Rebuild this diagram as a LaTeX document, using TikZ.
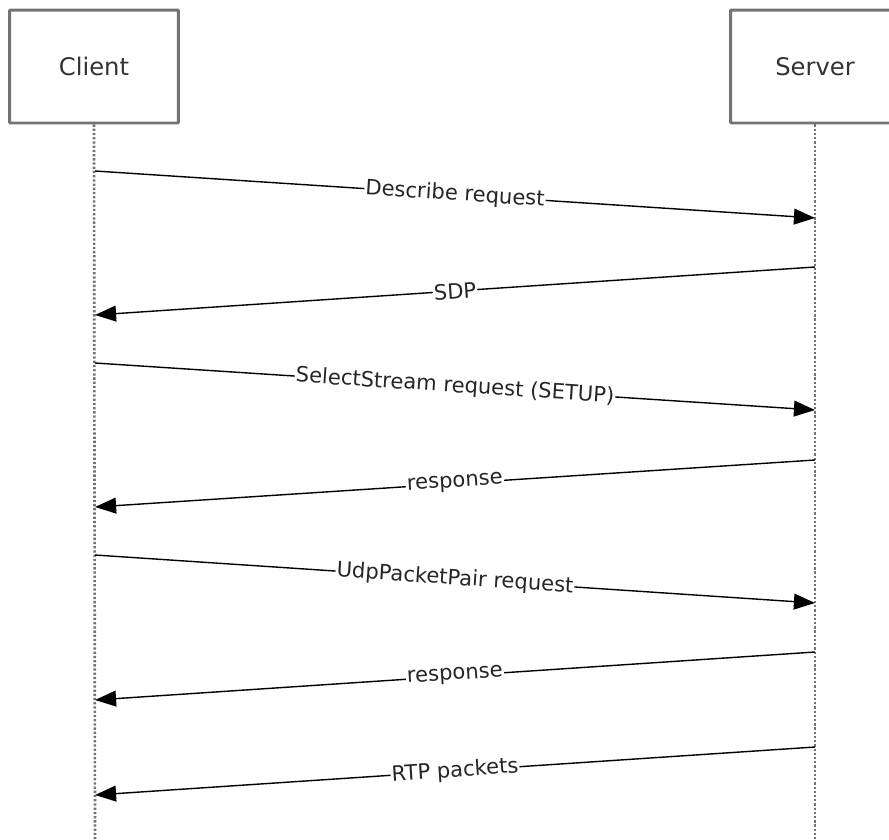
\documentclass[tikz,border=0pt]{standalone}
\usepackage{fontspec}
\setmainfont{DejaVu Sans}
\usetikzlibrary{arrows.meta}
\tikzset{
  actor/.style={draw=black!55, line width=1.7pt, rounded corners=0.6pt,
    minimum width=3.38cm, minimum height=2.26cm, text=black!80,
    font=\fontsize{13.8}{16}\selectfont},
  lifeline/.style={black!55, line width=1.5pt, dash pattern=on 1.3pt off 1.1pt},
  msg/.style={line width=0.8pt, -{Triangle[length=12pt,width=9pt]}},
  msglabel/.style={midway, sloped, fill=white, inner sep=0.6pt,
    text=black!85, font=\fontsize{12}{14}\selectfont}
}
\begin{document}
\begin{tikzpicture}[x=0.02cm, y=-0.02cm]
                \clip (0,0) rectangle (889,839);
                % actors
                \node[actor] (client) at (94,66.5) {Client};
                \node[actor] (server) at (815,66.5) {Server};
                \coordinate (cend) at (95,839);
                \coordinate (send) at (815,839);
                \draw[lifeline] (client.south) -- (cend);
                \draw[lifeline] (server.south) -- (send);
                % ends of the messages
                \coordinate (c1) at (95,171);
                \coordinate (s1) at (815,218);
                \coordinate (s2) at (815,267);
                \coordinate (c2) at (95,315);
                \coordinate (c3) at (95,363);
                \coordinate (s3) at (815,410);
                \coordinate (s4) at (815,460);
                \coordinate (c4) at (95,507);
                \coordinate (c5) at (95,555);
                \coordinate (s5) at (815,603);
                \coordinate (s6) at (815,652);
                \coordinate (c6) at (95,700);
                \coordinate (s7) at (815,747);
                \coordinate (c7) at (95,795);
                % messages
                \draw[msg] (c1) -- node[msglabel] {Describe request} (s1);
                \draw[msg] (s2) -- node[msglabel] {SDP} (c2);
                \draw[msg] (c3) -- node[msglabel] {SelectStream request (SETUP)} (s3);
                \draw[msg] (s4) -- node[msglabel] {response} (c4);
                \draw[msg] (c5) -- node[msglabel] {UdpPacketPair request} (s5);
                \draw[msg] (s6) -- node[msglabel] {response} (c6);
                \draw[msg] (s7) -- node[msglabel] {RTP packets} (c7);
            \end{tikzpicture}
\end{document}
